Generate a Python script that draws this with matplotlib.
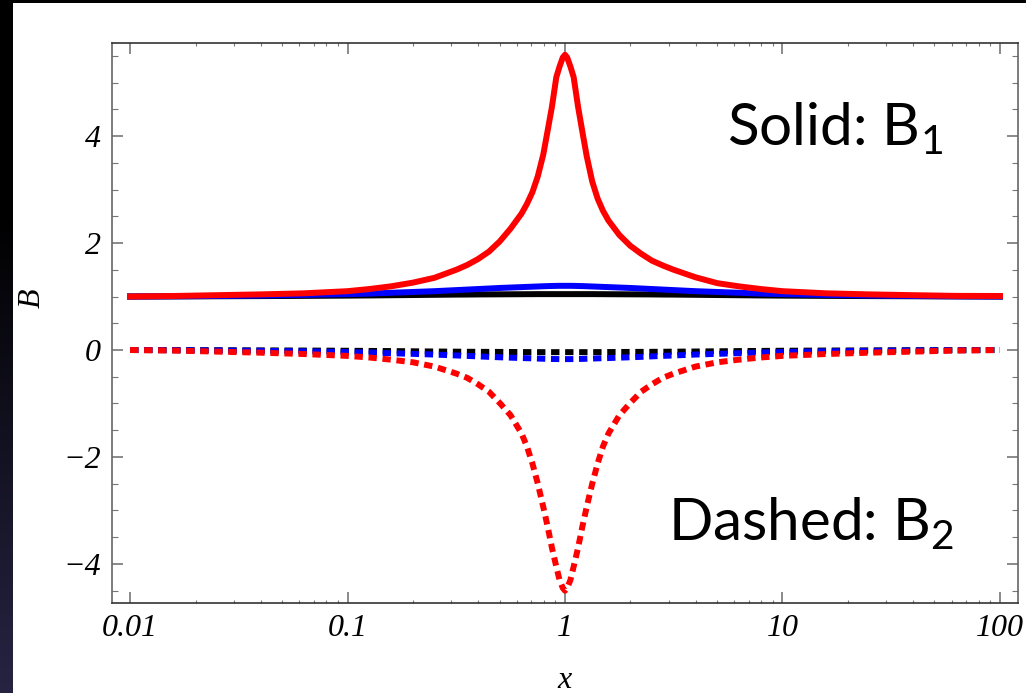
import numpy as np
import matplotlib
matplotlib.use("Agg")
import matplotlib.pyplot as plt
from matplotlib.ticker import FixedLocator, FixedFormatter, MultipleLocator
from matplotlib.patches import Rectangle

# sample positions (x) and curve values
x = [0.01, 0.0158, 0.0251, 0.0398, 0.0631, 0.1, 0.126, 0.158, 0.2, 0.251, 0.316,
     0.355, 0.398, 0.447, 0.501, 0.562, 0.631, 0.668, 0.708, 0.75, 0.794, 0.832,
     0.871, 0.912, 0.944, 0.977, 1.0,
     1.023, 1.059, 1.096, 1.148, 1.202, 1.259, 1.334, 1.413, 1.496, 1.585, 1.778,
     1.995, 2.239, 2.512, 2.818, 3.162, 3.981, 5.012, 6.31, 7.943, 10.0, 15.85,
     25.12, 39.81, 63.1, 100.0]

red_b1 = [1.00, 1.01, 1.025, 1.04, 1.06, 1.10, 1.14, 1.19, 1.26, 1.35, 1.50,
          1.59, 1.70, 1.84, 2.03, 2.27, 2.55, 2.73, 2.95, 3.25, 3.65, 4.10,
          4.55, 5.10, 5.30, 5.47, 5.52,
          5.47, 5.30, 5.10, 4.55, 4.08, 3.62, 3.15, 2.83, 2.60, 2.42, 2.15,
          1.95, 1.80, 1.67, 1.58, 1.50, 1.36, 1.25, 1.19, 1.14, 1.10, 1.06,
          1.04, 1.025, 1.012, 1.01]
red_b2 = [0.00, -0.01, -0.03, -0.05, -0.075, -0.11, -0.14, -0.18, -0.23, -0.31, -0.44,
          -0.52, -0.64, -0.78, -0.99, -1.22, -1.56, -1.80, -2.12, -2.50, -2.93, -3.30,
          -3.70, -4.05, -4.30, -4.45, -4.50,
          -4.45, -4.30, -4.05, -3.70, -3.30, -2.93, -2.50, -2.12, -1.80, -1.56, -1.22,
          -0.99, -0.78, -0.64, -0.52, -0.44, -0.31, -0.23, -0.18, -0.14, -0.11, -0.075,
          -0.05, -0.03, -0.01, 0.00]
blue_b1 = [1.000, 1.004, 1.010, 1.018, 1.030, 1.045, 1.055, 1.070, 1.085, 1.100, 1.120,
           1.130, 1.140, 1.150, 1.160, 1.168, 1.176, 1.180, 1.184, 1.188, 1.192, 1.195,
           1.197, 1.199, 1.200, 1.200, 1.200,
           1.200, 1.200, 1.199, 1.197, 1.195, 1.192, 1.188, 1.184, 1.180, 1.176, 1.168,
           1.160, 1.150, 1.140, 1.130, 1.120, 1.100, 1.085, 1.070, 1.055, 1.045, 1.030,
           1.018, 1.010, 1.004, 1.000]
blue_b2 = [0.000, -0.003, -0.008, -0.015, -0.025, -0.038, -0.047, -0.060, -0.072, -0.085,
           -0.102, -0.110, -0.119, -0.128, -0.136, -0.143, -0.150, -0.153, -0.156, -0.160,
           -0.163, -0.166, -0.168, -0.169, -0.170, -0.170, -0.170,
           -0.170, -0.170, -0.169, -0.168, -0.166, -0.163, -0.160, -0.156, -0.153, -0.150,
           -0.143, -0.136, -0.128, -0.119, -0.110, -0.102, -0.085, -0.072, -0.060, -0.047,
           -0.038, -0.025, -0.015, -0.008, -0.003, 0.000]
black_b1 = [1.000, 1.002, 1.005, 1.008, 1.012, 1.017, 1.020, 1.024, 1.028, 1.032, 1.036,
            1.037, 1.039, 1.040, 1.041, 1.042, 1.043, 1.044, 1.044, 1.045, 1.045, 1.045,
            1.045, 1.045, 1.045, 1.045, 1.045,
            1.045, 1.045, 1.045, 1.045, 1.045, 1.045, 1.045, 1.044, 1.044, 1.043, 1.042,
            1.041, 1.040, 1.039, 1.037, 1.036, 1.032, 1.028, 1.024, 1.020, 1.017, 1.012,
            1.008, 1.005, 1.002, 1.000]
black_b2 = [0.000, -0.002, -0.004, -0.007, -0.010, -0.014, -0.017, -0.020, -0.024, -0.028,
            -0.031, -0.033, -0.034, -0.035, -0.036, -0.037, -0.038, -0.039, -0.039, -0.040,
            -0.040, -0.040, -0.040, -0.040, -0.040, -0.040, -0.040,
            -0.040, -0.040, -0.040, -0.040, -0.040, -0.040, -0.040, -0.039, -0.039, -0.038,
            -0.037, -0.036, -0.035, -0.034, -0.033, -0.031, -0.028, -0.024, -0.020, -0.017,
            -0.014, -0.010, -0.007, -0.004, -0.002, 0.000]

xticks = [0.01, 0.1, 1, 10, 100]
xticklabels = ["0.01", "0.1", "1", "10", "100"]
yticks = [-4, -2, 0, 2, 4]

W, H = 1026, 693
fig = plt.figure(figsize=(W / 100, H / 100), dpi=100, facecolor="black")

# slide background: white page, dark gradient strip at the left
fig.patches.append(Rectangle((13 / W, 0), 1, (H - 3) / H, transform=fig.transFigure,
                             facecolor="white", edgecolor="none", zorder=-5))
strip = fig.add_axes([0, 0, 13 / W, 1], zorder=-4)
t = np.clip((np.linspace(0, 1, 200) - 0.3) / 0.7, 0, 1)[:, None]
grad = np.dstack([0.15 * t, 0.14 * t, 0.26 * t])
strip.imshow(grad, aspect="auto", extent=[0, 1, 0, 1])
strip.set_axis_off()

ax = fig.add_axes([112 / W, 1 - 603 / H, (1018 - 112) / W, (603 - 43) / H], zorder=2)
ax.set_facecolor("white")

lw = 4.3
dash = (0, (1.4, 0.95))
ax.plot(x, black_b1, color="black", lw=lw)
ax.plot(x, blue_b1, color="blue", lw=lw)
ax.plot(x, red_b1, color="red", lw=lw)
ax.plot(x, black_b2, color="black", lw=lw, linestyle=dash)
ax.plot(x, blue_b2, color="blue", lw=lw, linestyle=dash)
ax.plot(x, red_b2, color="red", lw=lw, linestyle=dash)

ax.set_xscale("log")
ax.set_xlim(10 ** -2.083, 10 ** 2.083)
ax.set_ylim(-4.73, 5.74)

ax.xaxis.set_major_locator(FixedLocator(xticks))
ax.xaxis.set_major_formatter(FixedFormatter(xticklabels))
minors = [m * 10.0 ** e for e in range(-2, 2) for m in range(2, 10)]
ax.xaxis.set_minor_locator(FixedLocator(minors))
ax.yaxis.set_major_locator(FixedLocator(yticks))
ax.yaxis.set_minor_locator(MultipleLocator(0.5))

tickfont = dict(family="Liberation Serif", style="italic", size=23)
ax.tick_params(which="both", direction="in", top=True, right=True, colors="#777777")
ax.tick_params(which="major", length=7.7, width=1.2, pad=8)
ax.tick_params(axis="x", which="minor", length=2.5, width=0.8)
ax.tick_params(axis="y", which="minor", length=4.3, width=0.8)
for lab in ax.get_xticklabels() + ax.get_yticklabels():
    lab.set_fontfamily("Liberation Serif")
    lab.set_fontstyle("italic")
    lab.set_fontsize(23)
    lab.set_color("black")
for side, s in ax.spines.items():
    s.set_color("#333333" if side in ("top", "bottom") else "#666666")
    s.set_linewidth(1.2)

fig.text(565 / W, 1 - 680 / H, "x", ha="center", va="center", **tickfont)
fig.text(32 / W, 1 - 298 / H, "B", ha="center", va="center", rotation=90, **tickfont)

plt.rcParams["mathtext.fontset"] = "custom"
plt.rcParams["mathtext.rm"] = "Lato"
ax.text(727 / W, 1 - 145 / H, r"Solid: B$_{\mathrm{1}}$", transform=fig.transFigure,
        family="Lato", fontsize=42, ha="left", va="baseline")
ax.text(668 / W, 1 - 540 / H, r"Dashed: B$_{\mathrm{2}}$", transform=fig.transFigure,
        family="Lato", fontsize=42, ha="left", va="baseline")

fig.savefig("out.png", dpi=100, facecolor=fig.get_facecolor())
